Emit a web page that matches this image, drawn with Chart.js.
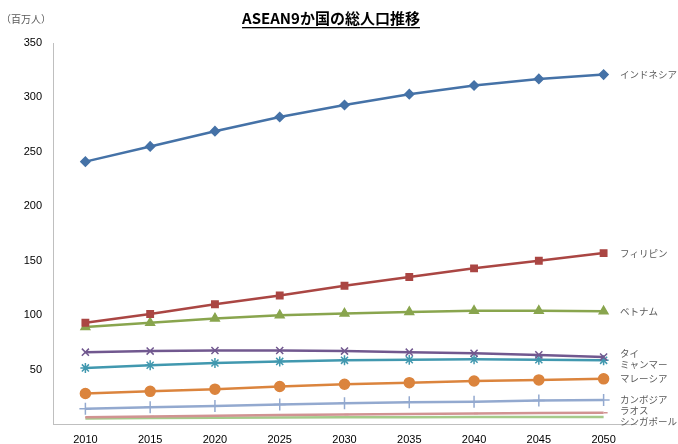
<!DOCTYPE html>
<html>
<head>
<meta charset="utf-8">
<script src="https://cdn.jsdelivr.net/npm/chart.js@4"></script>
<style>
  html, body { margin: 0; padding: 0; background: #fff; }
  #wrap { width: 678px; height: 444px; position: relative; }
</style>
</head>
<body>
<div id="wrap"><canvas id="canvas"></canvas></div>
<script>
// years on the x axis
var years = ['2010', '2015', '2020', '2025', '2030', '2035', '2040', '2045', '2050'];

// population, millions
var indonesia = [241, 255, 269, 282, 293, 303, 311, 317, 321];
var philippines = [93, 101, 110, 118, 127, 135, 143, 150, 157];
var vietnam = [89, 93, 97, 100, 101.5, 103, 104, 104, 103.5];
var thailand = [66, 67, 67.5, 67.5, 67, 66, 65, 63.5, 61.5];
var myanmar = [51.5, 54, 56, 57.5, 58.5, 59, 59.5, 59, 58.5];
var malaysia = [28, 30, 32, 34.5, 36.5, 38, 39.5, 40.5, 41.5];
var cambodia = [14, 15.5, 16.5, 18, 19, 20, 20.5, 21.5, 22];
var laos = [6.3, 7, 7.6, 8.2, 8.7, 9.2, 9.6, 10, 10.3];
var singapore = [5.1, 5.5, 5.8, 6, 6.2, 6.3, 6.4, 6.4, 6.4];

var seriesNames = ['インドネシア', 'フィリピン', 'ベトナム', 'タイ', 'ミャンマー', 'マレーシア', 'カンボジア', 'ラオス', 'シンガポール'];
var seriesData = [indonesia, philippines, vietnam, thailand, myanmar, malaysia, cambodia, laos, singapore];
var seriesColors = ['#4572A7', '#AA4643', '#89A54E', '#71588F', '#4198AF', '#DB843D', '#93A9CF', '#D19392', '#A5C98A'];
var seriesMarkers = ['rectRot', 'rect', 'triangle', 'crossRot', 'star', 'circle', 'cross', 'dash', 'circle'];
var seriesRadius = [4.5, 4.5, 5, 5, 5, 5, 6, 4, 0];

var datasets = [];
seriesNames.forEach(function (name, i) {
    datasets.push({
        label: name,
        data: seriesData[i],
        borderColor: seriesColors[i],
        backgroundColor: seriesColors[i],
        borderWidth: 2.5,
        pointStyle: seriesMarkers[i],
        pointRadius: seriesRadius[i],
        pointBorderWidth: 1.5,
        pointHoverRadius: seriesRadius[i],
        fill: false,
        tension: 0
    });
});

// title, unit and the names at the line ends
var decorPlugin = {
    id: 'decor',
    afterDraw: function (chart) {
        var ctx = chart.ctx;
        ctx.save();

        ctx.font = 'bold 15px "Noto Sans CJK JP", sans-serif';
        ctx.fillStyle = '#000';
        ctx.textAlign = 'center';
        ctx.textBaseline = 'middle';
        var title = 'ASEAN9か国の総人口推移';
        var tx = 331, ty = 18;
        ctx.fillText(title, tx, ty);
        var w = ctx.measureText(title).width;
        ctx.fillRect(tx - w / 2, ty + 9, w, 1.3);

        ctx.font = '10px "Noto Sans CJK JP", sans-serif';
        ctx.fillStyle = '#595959';
        ctx.textAlign = 'left';
        ctx.fillText('（百万人）', 1, 19);

        var ys = [];
        chart.data.datasets.forEach(function (ds, i) {
            var meta = chart.getDatasetMeta(i);
            ys.push(meta.data[meta.data.length - 1].y);
        });
        // spread labels that would overlap
        for (var k = 0; k < 60; k++) {
            for (var j = 0; j < ys.length - 1; j++) {
                var gap = ys[j + 1] - ys[j];
                if (gap < 11) {
                    var push = (11 - gap) / 2;
                    ys[j] -= push;
                    ys[j + 1] += push;
                }
            }
        }
        ctx.font = '9.5px "Noto Sans CJK JP", sans-serif';
        ctx.fillStyle = '#595959';
        chart.data.datasets.forEach(function (ds, i) {
            ctx.fillText(ds.label, 620, ys[i]);
        });
        ctx.restore();
    }
};

var config = {
    type: 'line',
    data: {
        labels: years,
        datasets: datasets
    },
    options: {
        responsive: true,
        maintainAspectRatio: false,
        animation: false,
        layout: { padding: { top: 43, right: 42, left: 0, bottom: 0 } },
        plugins: {
            legend: { display: false },
            tooltip: { enabled: false }
        },
        scales: {
            x: {
                offset: true,
                grid: { display: false, drawTicks: false },
                border: { color: '#BFBFBF', width: 1 },
                ticks: {
                    color: '#000',
                    padding: 9,
                    maxRotation: 0,
                    font: { family: '"Liberation Sans Narrow", "Liberation Sans", sans-serif', size: 11 }
                },
                afterFit: function (axis) { axis.height = 20; }
            },
            y: {
                min: 0,
                max: 350,
                grid: { display: false, drawTicks: false },
                border: { color: '#BFBFBF', width: 1 },
                ticks: {
                    stepSize: 50,
                    color: '#000',
                    padding: 11,
                    font: { family: '"Liberation Sans Narrow", "Liberation Sans", sans-serif', size: 11 },
                    callback: function (v) { return v === 0 ? '' : v; }
                },
                afterFit: function (axis) { axis.width = 53; }
            }
        }
    },
    plugins: [decorPlugin]
};

var ctx = document.getElementById('canvas');
window.myLine = new Chart(ctx, config);
</script>
</body>
</html>
